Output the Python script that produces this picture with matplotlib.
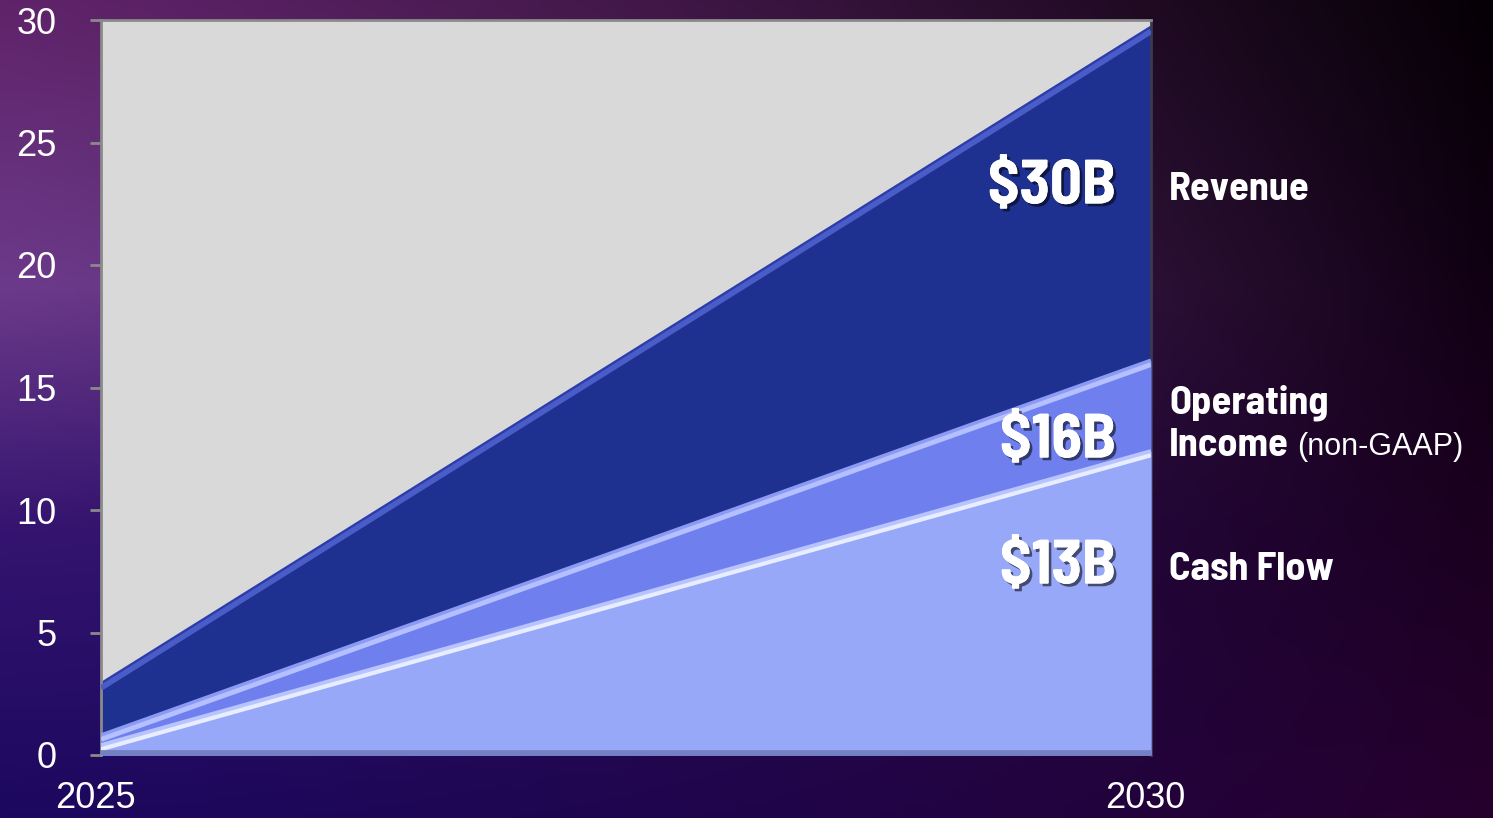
import numpy as np
import matplotlib
matplotlib.use("Agg")
import matplotlib.pyplot as plt
import matplotlib.patheffects as pe
import matplotlib.transforms as mtransforms

# ---- data ----
years = [2025, 2030]
revenue = [2.9, 29.7]
op_income = [0.8, 16.1]
cash_flow = [0.4, 12.4]
y_ticks = [0, 5, 10, 15, 20, 25, 30]
x_ticks = [2025, 2030]
value_labels = ["$30B", "$16B", "$13B"]

W, H, DPI = 1493, 818, 100
fig = plt.figure(figsize=(W / DPI, H / DPI), dpi=DPI)

# ---- background gradient ----
bg = fig.add_axes([0, 0, 1, 1])
bg.set_axis_off()
ny, nx = 200, 300
yy = np.linspace(0, 1, ny)[:, None]
xx = np.linspace(0, 1, nx)[None, :]
lstops_y = [0.0, 0.35, 0.65, 1.0]
lstops_c = np.array([[95, 35, 105], [108, 58, 138], [52, 20, 112], [28, 8, 95]], float)
left = np.stack([np.interp(yy[:, 0], lstops_y, lstops_c[:, k]) for k in range(3)], -1)
rtop = np.array([5, 0, 5], float)
rbot = np.array([38, 0, 45], float)
right = rtop[None, :] * (1 - yy) + rbot[None, :] * yy
w = (xx ** 1.3)[..., None]
img = left[:, None, :] * (1 - w) + right[:, None, :] * w
bg.imshow(img / 255.0, extent=[0, 1, 0, 1], aspect="auto", origin="upper")
bg.set_xlim(0, 1)
bg.set_ylim(0, 1)

# ---- main axes ----
ax = fig.add_axes([101 / W, (H - 755) / H, 1050 / W, 735 / H])
ax.set_facecolor("#d9d9d9")
ax.set_xlim(years[0], years[1])
ax.set_ylim(0, 30)

c_rev = "#1f3190"
c_oi = "#6f80ee"
c_cf = "#98a8f8"

ax.fill_between(years, 0, revenue, color=c_rev, lw=0, zorder=2)
ax.fill_between(years, 0, op_income, color=c_oi, lw=0, zorder=3)
ax.fill_between(years, 0, cash_flow, color=c_cf, lw=0, zorder=4)

def off(dy):
    return ax.transData + mtransforms.ScaledTranslation(0, dy / DPI, fig.dpi_scale_trans)

# bevel highlights along top edges
ax.plot(years, revenue, color="#2c3ca8", lw=2.5, zorder=2.5, transform=off(0), solid_capstyle="butt")
ax.plot(years, revenue, color="#4a5cc8", lw=4, zorder=2.6, transform=off(-4), solid_capstyle="butt")
ax.plot(years, op_income, color="#8c9af4", lw=3, zorder=3.5, transform=off(0), solid_capstyle="butt")
ax.plot(years, op_income, color="#b4c0ff", lw=3.5, zorder=3.6, transform=off(-4), solid_capstyle="butt")
ax.plot(years, cash_flow, color="#b8c4ff", lw=3, zorder=4.5, transform=off(0), solid_capstyle="butt")
ax.plot(years, cash_flow, color="#e8edff", lw=3, zorder=4.6, transform=off(-4), solid_capstyle="butt")
# bottom bevel
ax.plot(years, [0, 0], color="#7480c0", lw=7, zorder=5, solid_capstyle="butt")

for s in ["left", "top"]:
    ax.spines[s].set_color("#8a8a8a")
    ax.spines[s].set_linewidth(2)
ax.spines["right"].set_color("#3a3a50")
ax.spines["right"].set_linewidth(2)
ax.spines["bottom"].set_visible(False)

ax.set_yticks(y_ticks)
ax.set_yticklabels([str(t) for t in y_ticks])
ax.set_xticks(x_ticks)
ax.set_xticklabels([str(t) for t in x_ticks])
ax.tick_params(axis="y", colors="#8a8a8a", labelcolor="white", length=8, width=2,
               pad=24, labelsize=26)
ax.tick_params(axis="x", length=0, labelcolor="white", pad=19, labelsize=26)
for lab in ax.get_xticklabels() + ax.get_yticklabels():
    lab.set_fontfamily(["Liberation Sans", "DejaVu Sans"])
# shift x tick labels slightly left as in the reference
for lab in ax.get_xticklabels():
    lab.set_transform(lab.get_transform() + mtransforms.ScaledTranslation(-6 / DPI, 0, fig.dpi_scale_trans))

# ---- annotations ----
cond = ["Barlow Semi Condensed", "Barlow Condensed", "DejaVu Sans"]
shadow = [pe.withSimplePatchShadow(offset=(2, -2), shadow_rgbFace="black", alpha=0.55), pe.Normal()]

def fig_xy(px, py):
    return px / W, 1 - py / H

for txt, py in zip(value_labels, [187, 441, 567]):
    fig.text(*fig_xy(1116, py), txt, ha="right", va="center", color="white",
             fontsize=45, fontweight="bold", family=cond, path_effects=shadow)

fig.text(*fig_xy(1169, 189), "Revenue", ha="left", va="center", color="white",
         fontsize=29, fontweight="bold", family=cond)
fig.text(*fig_xy(1169, 403), "Operating", ha="left", va="center", color="white",
         fontsize=29, fontweight="bold", family=cond)
fig.text(*fig_xy(1169, 445), "Income", ha="left", va="center", color="white",
         fontsize=29, fontweight="bold", family=cond)
fig.text(*fig_xy(1297, 447), "(non-GAAP)", ha="left", va="center", color="white",
         fontsize=22, family=["Liberation Sans", "DejaVu Sans"])
fig.text(*fig_xy(1169, 570), "Cash Flow", ha="left", va="center", color="white",
         fontsize=29, fontweight="bold", family=cond)

fig.savefig("out.png", dpi=DPI)
